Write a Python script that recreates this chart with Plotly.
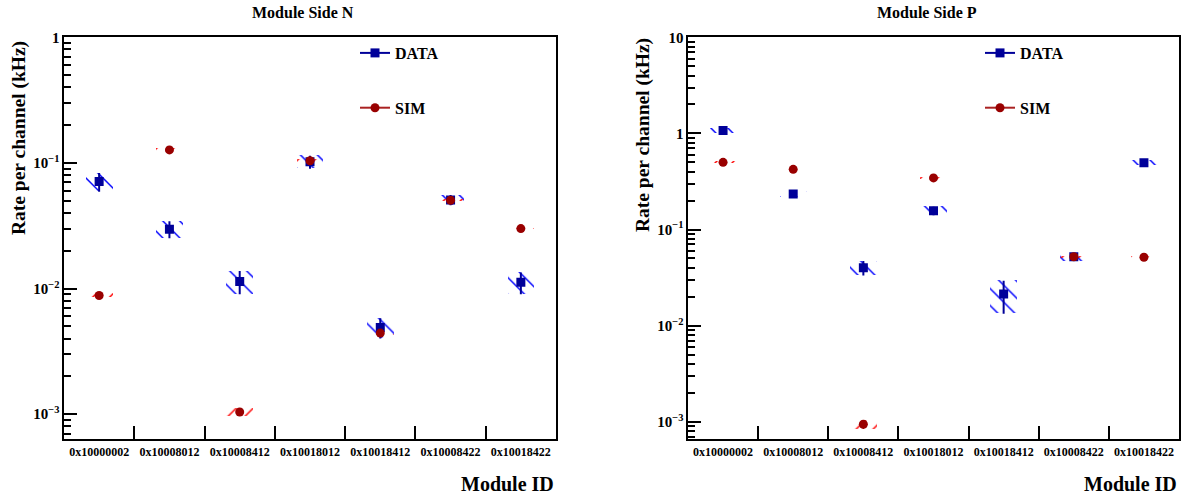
import plotly.graph_objects as go

modules = ["0x10000002", "0x10008012", "0x10008412", "0x10018012",
           "0x10018412", "0x10008422", "0x10018422"]

# Module Side N
n_data = [0.071, 0.0297, 0.0114, 0.102, 0.0049, 0.0508, 0.0112]
n_data_err = [0.012, 0.0046, 0.0024, 0.012, 0.0009, 0.0048, 0.0022]
n_sim = [0.0088, 0.127, 0.00104, 0.104, 0.00442, 0.0505, 0.0300]
n_sim_err = [0.0003, 0.003, 0.00007, 0.002, 0.00015, 0.001, 0.0006]

# Module Side P
p_data = [1.07, 0.234, 0.0401, 0.157, 0.0213, 0.0521, 0.495]
p_data_err = [0.07, 0.016, 0.0068, 0.016, 0.008, 0.005, 0.03]
p_sim = [0.50, 0.423, 0.00094, 0.344, None, 0.052, 0.0514]
p_sim_err = [0.01, 0.008, 0.0001, 0.007, None, 0.001, 0.001]

FONT = "Liberation Serif"
BLUE = "#000099"
RED = "#990000"
HATCH_BLUE = "#0000ff"
HATCH_RED = "#ff0000"

W, H = 1185, 497


def px_x(p):
    return p / W


def px_y(p):
    return 1 - p / H


fig = go.Figure()


def add_panel(vals, errs, sims, sim_errs, xa, ya, legend):
    # hatched error bands
    for v, e, col, shape in ((vals, errs, HATCH_BLUE, "\\"), (sims, sim_errs, HATCH_RED, "/")):
        base = [None if a is None else a - b for a, b in zip(v, e)]
        height = [None if b is None else 2 * b for b in e]
        fig.add_trace(go.Bar(
            x=modules, y=height, base=base, width=0.38,
            xaxis=xa, yaxis=ya, showlegend=False, hoverinfo="skip",
            marker=dict(color=col, opacity=1, line=dict(width=0),
                        pattern=dict(shape=shape, size=12, solidity=0.12,
                                     fgcolor=col, fgopacity=1,
                                     bgcolor="rgba(0,0,0,0)")),
        ))
    fig.add_trace(go.Scatter(
        x=modules, y=vals, mode="markers", xaxis=xa, yaxis=ya, showlegend=False,
        marker=dict(symbol="square", size=9, color=BLUE),
        error_y=dict(type="data", array=errs, color=BLUE, thickness=2, width=0),
    ))
    fig.add_trace(go.Scatter(
        x=modules, y=sims, mode="markers", xaxis=xa, yaxis=ya, showlegend=False,
        marker=dict(symbol="circle", size=9, color=RED),
        error_y=dict(type="data", array=[0 if s is None else s for s in sim_errs],
                     color=RED, thickness=1.5, width=0),
    ))
    # legend entries
    fig.add_trace(go.Scatter(
        x=[None], y=[None], mode="lines+markers", name="DATA", xaxis=xa, yaxis=ya,
        legend=legend, legendgroup="d" + legend,
        line=dict(color=BLUE, width=2), marker=dict(symbol="square", size=9, color=BLUE),
    ))
    fig.add_trace(go.Scatter(
        x=[None], y=[None], mode="lines+markers", name="SIM", xaxis=xa, yaxis=ya,
        legend=legend, legendgroup="s" + legend,
        line=dict(color="#aa2222", width=2), marker=dict(symbol="circle", size=9, color=RED),
    ))


add_panel(n_data, n_data_err, n_sim, n_sim_err, "x", "y", "legend")
add_panel(p_data, p_data_err, p_sim, p_sim_err, "x2", "y2", "legend2")

xcommon = dict(
    type="category", categoryorder="array", categoryarray=modules,
    range=[-0.5, 6.5], tickson="boundaries", ticks="inside", ticklen=13,
    tickwidth=2, tickcolor="black", showline=True, linewidth=2, linecolor="black",
    mirror=True, showgrid=False, zeroline=False, automargin=False,
    tickfont=dict(family=FONT, size=12, color="black", weight="bold"),
)
ycommon = dict(
    type="log", tickmode="linear", tick0=0, dtick=1, exponentformat="power",
    ticks="inside", ticklen=13, tickwidth=2, tickcolor="black",
    showline=True, linewidth=2, linecolor="black", mirror=True,
    showgrid=False, zeroline=False, automargin=False,
    minor=dict(dtick="D1", ticks="inside", ticklen=7, tickwidth=1.5,
               tickcolor="black", showgrid=False),
    tickfont=dict(family=FONT, size=12, color="black", weight="bold"),
)

ydom = [px_y(439.3), px_y(37.3)]
legend_common = dict(
    bgcolor="rgba(0,0,0,0)", borderwidth=0, traceorder="grouped", tracegroupgap=31,
    font=dict(family=FONT, size=16, color="black", weight="bold"),
    xanchor="left", yanchor="top", itemwidth=30,
)

fig.update_layout(
    width=W, height=H, margin=dict(l=0, r=0, t=0, b=0, pad=0, autoexpand=False),
    paper_bgcolor="white", plot_bgcolor="white",
    barmode="overlay", bargap=0,
    xaxis=dict(domain=[px_x(64), px_x(556)], anchor="y", **xcommon),
    yaxis=dict(domain=ydom, anchor="x", range=[-3.2, 0], **ycommon),
    xaxis2=dict(domain=[px_x(688), px_x(1179)], anchor="y2", **xcommon),
    yaxis2=dict(domain=ydom, anchor="x2", range=[-3.183, 1], **ycommon),
    legend=dict(x=px_x(355), y=px_y(36), **legend_common),
    legend2=dict(x=px_x(980), y=px_y(36), **legend_common),
)

ann_font = dict(family=FONT, color="black", weight="bold")
annotations = [
    dict(text="Module Side N", x=px_x(303), y=px_y(12), xref="paper", yref="paper",
         xanchor="center", yanchor="middle", showarrow=False, font=dict(size=16, **ann_font)),
    dict(text="Module Side P", x=px_x(927), y=px_y(12), xref="paper", yref="paper",
         xanchor="center", yanchor="middle", showarrow=False, font=dict(size=16, **ann_font)),
    dict(text="Rate per channel (kHz)", x=px_x(19), y=px_y(39), xref="paper", yref="paper",
         xanchor="center", yanchor="top", textangle=-90, showarrow=False,
         font=dict(size=19.5, **ann_font)),
    dict(text="Rate per channel (kHz)", x=px_x(643), y=px_y(36), xref="paper", yref="paper",
         xanchor="center", yanchor="top", textangle=-90, showarrow=False,
         font=dict(size=19.5, **ann_font)),
    dict(text="Module ID", x=px_x(556), y=px_y(484), xref="paper", yref="paper",
         xanchor="right", yanchor="middle", showarrow=False, font=dict(size=20, **ann_font)),
    dict(text="Module ID", x=px_x(1179), y=px_y(484), xref="paper", yref="paper",
         xanchor="right", yanchor="middle", showarrow=False, font=dict(size=20, **ann_font)),
]
fig.update_layout(annotations=annotations)

fig.write_html(
    "out.html",
    config={"displayModeBar": False},
    post_script="document.body.style.margin='0';document.body.style.overflow='hidden';",
)
